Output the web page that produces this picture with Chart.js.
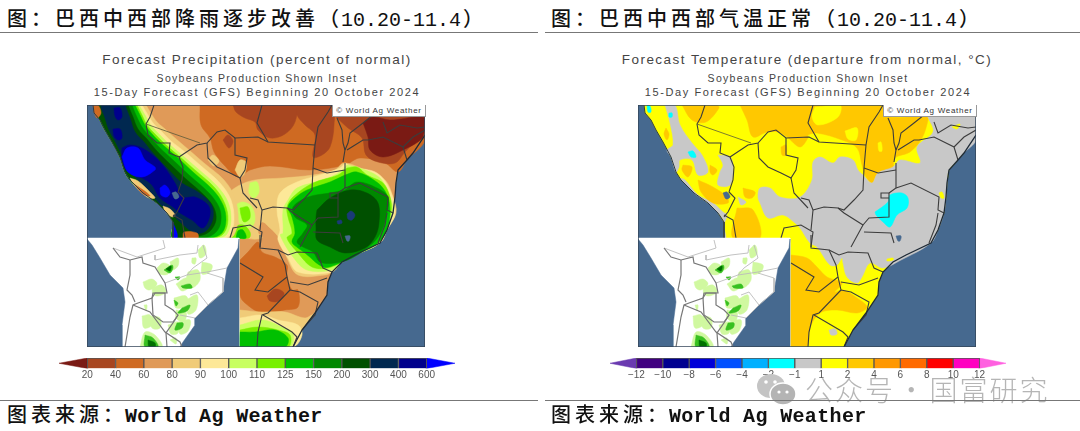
<!DOCTYPE html>
<html>
<head>
<meta charset="utf-8">
<script src="https://cdn.jsdelivr.net/npm/chart.js@4"></script>
<style>
body { margin:0; background:#fff; width:1080px; height:431px; overflow:hidden; position:relative; }
div, canvas, svg { position:absolute; }
.cap { font-family:"Noto Sans CJK SC"; font-size:20px; letter-spacing:4px; color:#111; white-space:nowrap; line-height:24px; font-weight:500; }
.cap b { font-family:"Liberation Mono"; letter-spacing:0; font-weight:400; margin:0 2px 0 -2px; }
.cap b.fat { font-weight:700; letter-spacing:.35px; margin:0 0 0 -2px; }
.rule { height:1px; background:#777; }
.head { font-family:"Liberation Sans"; color:#444; white-space:nowrap; text-align:center; width:400px; }
.copy { font-family:"Liberation Sans"; font-size:8px; letter-spacing:.7px; color:#333; background:#fff; border:1px solid #999; border-top:0; box-sizing:border-box; width:94px; height:12px; line-height:11px; text-align:center; white-space:nowrap; }
.map { filter:blur(.5px); }
</style>
</head>
<body>
<canvas id="precipMap" class="map" width="338" height="242" style="left:87px;top:105px"></canvas>
<canvas id="tempMap" class="map" width="338" height="242" style="left:638px;top:105px"></canvas>
<canvas id="precipBar" width="398" height="21" style="left:58px;top:358px"></canvas>
<canvas id="tempBar" width="398" height="21" style="left:609px;top:358px"></canvas>
<script>
// colour classes
var precipTicks = ['20','40','60','80','90','100','110','125','150','200','300','400','600'];
var precipColors = ['#7a1a14','#a84620','#cf6a22','#e09a58','#f0cb78','#fde898','#c8ff60','#78f000','#00c000','#008800','#005000','#002850','#00008c','#0000ff'];
var tempTicks = ['\u221212','\u221210','\u22128','\u22126','\u22124','\u22122','\u22121','1','2','4','6','8','10','12'];
var tempColors = ['#6a3ab0','#400080','#000090','#0000d8','#0050ff','#00b0ff','#00ffff','#c8c8c8','#ffff00','#ffc800','#ff9800','#ff6a00','#ff0000','#ff00c0','#ff60e0'];
var seaColor = '#46698f';

// coast, map units
var coastWest = [[93,105],[94,113],[100,120],[105,130],[112,142],[120,157],[125,172],[130,180],[143,193],[157,203],[167,213],[173,222],[173,238]];
var coastEast = [[425,135],[413,153],[407,160],[398,170],[396,183],[395,197],[393,213],[387,230],[380,243],[355,255],[342,262],[332,272],[328,282],[327,295],[315,313],[302,330],[293,347]];
var land = [[93,105],[94,113],[100,120],[105,130],[112,142],[120,157],[125,172],[130,180],[143,193],[157,203],[167,213],[173,222],[173,347],[293,347],[302,330],[315,313],[327,295],[328,282],[332,272],[342,262],[355,255],[380,243],[387,230],[393,213],[395,197],[396,183],[398,170],[407,160],[413,153],[425,135],[425,105]];

// precipitation contours
var pNorthOrange = [[200,105],[201,125],[210,138],[214,152],[224,165],[238,177],[250,170],[270,166],[310,170],[345,165],[360,158],[385,163],[398,172],[407,160],[425,140],[425,105]];
var pBrickA = [[233,105],[295,105],[295,122],[285,134],[270,138],[258,130],[255,122],[245,118],[236,112]];
var pBrickB = [[297,105],[332,105],[334,125],[330,147],[322,155],[313,157],[315,135],[305,125],[297,115]];
var pBrickC = [[335,116],[425,116],[425,130],[405,152],[395,163],[378,162],[366,155],[362,138],[348,128]];
var pDarkRed = [[363,123],[373,117],[390,120],[425,118],[423,137],[403,150],[383,157],[370,150],[368,137]];
var pBrickD = [[223,140],[228,135],[233,141],[229,148]];
var pBrickE = [[267,296],[275,289],[284,293],[279,301],[270,301]];
var pTanA = [[208,160],[213,155],[219,161],[214,166]];
var pTanB = [[235,170],[240,160],[246,162],[245,173],[240,177]];
var pBand80 = [[222,198],[238,186],[255,180],[283,178],[313,175],[335,170],[344,163],[365,170],[385,180],[393,197],[396,213],[387,230],[380,243],[355,255],[342,262],[332,272],[325,275],[298,275],[287,258],[279,238],[270,228],[262,222],[258,232],[262,238],[247,238],[235,228],[230,210]];
var pBand90 = [[345,163],[353,167],[377,173],[390,190],[395,213],[387,230],[380,243],[355,255],[342,262],[332,272],[298,272],[288,258],[278,240],[280,230],[277,210],[280,193],[297,182],[320,175],[340,168]];
var pBand100 = [[347,165],[360,168],[380,178],[390,197],[393,212],[386,230],[378,244],[355,255],[342,262],[332,270],[307,270],[293,257],[280,235],[283,233],[283,210],[288,200],[297,188],[323,180],[340,172]];
var pBand110 = [[347,168],[357,167],[367,175],[383,183],[390,197],[391,212],[384,230],[375,245],[355,255],[342,262],[328,268],[312,267],[298,253],[287,238],[292,233],[288,217],[287,207],[293,197],[313,183],[338,175]];
var pBand125 = [[345,175],[357,172],[378,183],[387,195],[390,212],[387,230],[378,243],[365,250],[350,258],[335,265],[323,267],[305,253],[298,248],[292,242],[295,233],[292,217],[288,207],[295,198],[307,190],[330,182]];
var pBand150 = [[345,190],[357,182],[377,188],[388,197],[387,213],[382,230],[373,243],[352,258],[335,263],[320,262],[313,252],[303,247],[297,242],[303,233],[307,225],[295,217],[293,207],[308,197],[330,193]];
var pBand200 = [[317,210],[330,198],[350,190],[367,193],[378,203],[379,223],[375,237],[365,248],[345,253],[330,247],[317,240],[316,228],[316,217]];
var pSouthOrange = [[240,260],[248,252],[258,242],[262,252],[275,257],[287,265],[287,275],[292,290],[298,290],[298,307],[285,310],[262,313],[245,303],[240,295]];
var pSouth80 = [[240,310],[262,312],[285,312],[305,318],[315,313],[302,330],[293,347],[240,347]];
var pSouth90 = [[240,318],[262,315],[278,320],[298,325],[302,335],[293,347],[240,347]];
var pSouth100 = [[240,325],[262,320],[282,327],[293,333],[290,347],[240,347]];
var pSouth110 = [[240,330],[258,327],[278,330],[290,335],[288,347],[240,347]];
var pSouth125 = [[240,332],[255,332],[275,330],[288,338],[285,347],[240,347]];
var pPatchA = [[235,205],[243,202],[252,207],[255,220],[250,228],[240,224],[238,213]];
var pPatchB = [[240,208],[248,207],[250,218],[244,222],[241,215]];
var pPatchC = [[250,183],[257,182],[259,192],[254,198],[249,193]];
var pPatchD = [[232,238],[233,228],[243,225],[250,232],[249,238]];
var pPatchE = [[236,238],[238,231],[243,230],[246,238]];

// andes wet band, outer to inner
var wetCoast = [[173,238],[173,222],[167,213],[157,203],[143,193],[130,180],[125,172],[120,157],[112,142],[105,130],[100,120],[96,105]];
var wet80 = [[146,105],[152,115],[157,122],[165,129],[175,138],[189,150],[204,163],[224,180],[235,198],[238,220],[234,235],[229,238]].concat(wetCoast);
var wet90 = [[142,105],[148,115],[153,123],[161,131],[171,141],[185,152],[200,165],[220,183],[231,200],[234,220],[230,235],[225,238]].concat(wetCoast);
var wet100 = [[139,105],[145,115],[150,124],[158,133],[168,143],[182,155],[197,168],[217,186],[228,202],[231,220],[227,234],[219,238]].concat(wetCoast);
var wet110 = [[137,105],[142,115],[147,125],[155,134],[165,144],[179,156],[195,170],[215,188],[225,204],[228,220],[224,233],[214,238]].concat(wetCoast);
var wet125 = [[135,105],[140,115],[145,125],[153,135],[163,145],[177,157],[193,172],[213,190],[223,205],[226,220],[222,233],[210,238]].concat(wetCoast);
var wet150 = [[132,105],[136,115],[142,127],[150,137],[159,147],[173,160],[189,175],[209,193],[219,207],[221,220],[217,231],[205,238]].concat(wetCoast);
var wet200 = [[128,105],[133,117],[138,129],[147,139],[156,150],[170,164],[186,179],[205,196],[214,208],[216,220],[211,230],[203,235],[185,238]].concat(wetCoast);
var wet300 = [[125,105],[130,118],[135,132],[144,142],[152,152],[166,167],[182,183],[198,192],[211,204],[213,218],[206,231],[195,233],[180,222],[172,214],[160,204],[150,192],[136,178],[126,163],[116,143],[109,130],[105,118],[102,105]];
var wetNavy = [[122,148],[130,145],[142,148],[155,157],[165,168],[175,183],[183,197],[195,197],[208,205],[210,215],[203,228],[192,220],[180,213],[173,207],[160,198],[152,185],[142,178],[128,172],[122,160]];
var wetNavyA = [[114,108],[120,108],[122,117],[118,120],[115,116]];
var wetNavyB = [[113,129],[120,129],[122,138],[118,140],[114,136]];
var wetCoreA = [[122,157],[127,148],[138,148],[145,160],[155,167],[155,170],[142,177],[128,172]];
var wetCoreB = [[160,188],[165,185],[170,192],[167,197],[161,195]];
var wetCoreC = [[173,223],[177,233],[177,238],[173,238]];
var stripA = [[130,178],[138,181],[149,191],[155,198],[147,197],[134,185]];
var stripB = [[134,184],[146,192],[150,196],[143,194]];
var stripC = [[163,206],[170,209],[175,215],[172,217],[165,211]];
var stripD = [[93,105],[98,105],[101,113],[97,118],[94,112]];
var stripE = [[183,238],[184,232],[197,233],[198,238]];
var lakeA = [[172,193],[176,192],[179,197],[175,199]];
var lakeB = [[347,214],[351,211],[355,215],[352,220],[348,219]];
var lakeC = [[337,221],[341,220],[342,223],[338,224]];
var lakeD = [[345,236],[350,236],[349,241],[347,241]];

// temperature contours
var tOrangeA = [[131,105],[166,105],[168,108],[155,122],[141,120]];
var tOrangeB = [[189,105],[196,120],[202,137],[216,132],[227,132],[236,137],[249,147],[257,138],[257,135],[266,133],[291,140],[306,148],[311,165],[314,175],[321,183],[326,175],[341,170],[344,158],[359,152],[371,138],[377,120],[376,117],[335,116],[332,105]];
var tYellowA = [[264,107],[289,105],[287,117],[267,125],[261,117]];
var tYellowB = [[294,131],[306,128],[305,140],[297,139]];
var tYellowC = [[327,143],[330,142],[331,151],[328,151]];
var tGreyMain = [[377,117],[382,132],[366,147],[369,163],[349,160],[342,167],[327,173],[321,183],[312,175],[307,170],[302,160],[289,157],[282,163],[269,157],[262,162],[261,180],[249,197],[229,197],[219,188],[209,188],[207,197],[209,203],[217,218],[232,215],[244,223],[249,228],[259,243],[266,247],[279,265],[286,265],[291,258],[292,263],[296,277],[306,283],[311,277],[319,263],[332,268],[350,260],[380,243],[387,230],[393,213],[395,197],[396,183],[398,170],[407,160],[413,153],[425,140],[425,116]];
var tGreyAndes = [[114,105],[124,105],[129,125],[141,143],[151,155],[157,172],[147,175],[141,160],[129,160],[128,167],[125,172],[120,157],[116,150],[122,145],[119,123]];
var tGreyCoast = [[129,178],[134,180],[147,195],[161,202],[172,212],[176,215],[173,225],[175,238],[173,238],[173,222],[167,213],[157,203],[143,193]];
var tGreyBolivia = [[167,155],[179,157],[182,168],[179,185],[167,185],[169,172],[172,165]];
var tGreySmall = [[187,197],[195,202],[190,205]];
var tGreySouth = [[278,330],[284,329],[286,334],[280,335]];
var tCyan = [[324,212],[337,202],[339,195],[351,193],[357,198],[356,208],[346,215],[339,227],[332,222],[325,215]];
var tCyanA = [[96,105],[99,106],[100,112],[97,112]];
var tCyanB = [[118,113],[121,113],[121,117],[118,117]];
var tCyanC = [[137,152],[142,151],[145,157],[140,157]];
var tOrangeC = [[132,165],[141,167],[137,177],[131,170]];
var tOrangeD = [[159,165],[166,170],[162,175],[159,172]];
var tOrangeE = [[147,180],[162,187],[176,197],[177,203],[162,203],[150,192]];
var tOrangeF = [[192,188],[204,192],[201,198],[194,197]];
var tOrangeG = [[186,208],[202,210],[209,238],[182,238]];
var tOrangeH = [[115,128],[118,134],[116,140],[113,134]];
var tOrangeI = [[230,147],[235,145],[235,155],[231,155]];
var tOrangeJ = [[240,255],[256,258],[266,267],[276,277],[291,283],[284,292],[292,290],[306,298],[316,307],[306,313],[286,310],[269,313],[259,328],[256,347],[240,347]];
var tYellowD = [[401,127],[409,124],[406,129]];
var tYellowE = [[388,193],[391,192],[393,198],[390,198]];
var tYellowF = [[336,259],[342,258],[342,260],[336,261]];

// inset, soybean areas
var insetBox = [[87,238],[239,238],[239,347],[87,347]];
var insetSeaW = [[87,239],[92,245],[100,258],[110,275],[123,288],[125,302],[122,325],[122,347],[87,347]];
var insetSeaE = [[239,239],[238,248],[227,268],[223,292],[208,305],[195,318],[195,325],[183,342],[180,347],[239,347]];
var soyLight = [
  [[157,268],[163,263],[170,266],[168,274],[160,274]],
  [[170,262],[178,258],[178,266],[172,270]],
  [[143,282],[152,279],[157,284],[150,290],[145,288]],
  [[152,288],[162,285],[166,292],[158,296],[153,294]],
  [[176,284],[186,278],[190,286],[182,291]],
  [[188,272],[198,270],[200,280],[192,288],[186,282]],
  [[202,262],[212,265],[210,272],[202,274]],
  [[198,250],[204,245],[206,254],[200,258]],
  [[192,258],[196,258],[195,264],[192,263]],
  [[174,298],[186,296],[188,305],[176,308]],
  [[186,300],[197,295],[196,310],[188,314]],
  [[176,310],[186,312],[184,322],[176,318]],
  [[142,316],[150,315],[152,325],[144,328]],
  [[150,316],[160,318],[160,328],[152,328]],
  [[168,325],[178,322],[178,333],[171,334]],
  [[178,322],[190,320],[188,331],[180,334]],
  [[140,347],[145,332],[155,335],[162,347]],
  [[170,340],[176,338],[176,344]],
  [[144,305],[147,305],[146,311]]
];
var soyMid = [
  [[164,270],[172,265],[173,268],[170,273]],
  [[181,286],[190,284],[192,288],[183,288]],
  [[175,277],[180,277],[178,280]],
  [[174,300],[178,303],[176,306]],
  [[182,308],[190,305],[187,311],[178,313]],
  [[177,323],[183,323],[182,328],[175,330]],
  [[145,335],[153,338],[158,347],[145,347]]
];
var soyDark = [[[148,340],[155,343],[155,347],[149,347]], [[166,269],[171,266],[170,271]]];
var insetDark = [
  [[113,248],[120,257],[130,260],[142,257],[143,263],[155,267],[165,283],[167,293],[153,293],[152,298],[138,303],[133,305],[130,317],[125,347]],
  [[130,260],[130,275],[127,290],[132,295],[135,302]],
  [[152,298],[155,293],[165,293],[165,305],[173,310],[178,315],[173,322],[163,322],[153,315],[152,298]],
  [[133,305],[150,312],[165,332],[180,342],[182,347]],
  [[178,315],[175,320],[166,333],[167,347]]
];
var insetLight = [
  [[113,248],[137,257],[165,248],[163,240]],
  [[155,255],[155,260],[180,255],[197,253],[198,245]],
  [[165,283],[187,275],[207,272],[227,268]],
  [[187,275],[193,268],[207,258],[203,245]],
  [[207,273],[223,278],[223,292],[208,305],[195,318]],
  [[190,295],[198,292],[208,305]],
  [[180,315],[195,318]]
];

// borders
var borders = [
  [[154,105],[150,117],[146,124],[148,135],[157,143],[170,143],[169,153],[179,157],[183,167],[182,180],[178,192],[184,198],[177,212],[173,217]],
  [[173,215],[182,220],[185,238]],
  [[179,157],[197,145],[207,143],[217,132],[225,130],[235,138],[258,137],[268,142],[315,145]],
  [[268,142],[257,123],[262,105]],
  [[315,145],[318,127],[328,112],[332,105]],
  [[315,145],[313,168],[312,190],[303,200],[293,210],[287,208]],
  [[207,143],[208,158],[217,167],[230,173],[240,178],[245,170],[247,158],[235,155],[235,138]],
  [[240,178],[243,193],[257,208]],
  [[230,238],[233,228],[250,225],[262,232],[260,247]],
  [[250,198],[258,200],[262,210],[260,230]],
  [[262,210],[273,207],[287,208],[293,213],[312,225],[300,247]],
  [[312,225],[318,218],[338,217],[338,193],[330,193],[330,198],[338,198]],
  [[313,168],[327,173],[345,170]],
  [[345,163],[345,188],[338,193]],
  [[345,188],[360,183],[388,197],[387,210],[393,213]],
  [[313,232],[340,233],[343,243]],
  [[387,213],[385,225],[378,243]],
  [[347,150],[363,140],[368,140],[383,137],[403,147],[407,160]],
  [[343,162],[345,150],[348,143],[350,133],[363,123],[373,115]],
  [[337,118],[342,130],[343,143],[345,150]],
  [[383,122],[387,133],[400,125],[417,128],[425,127]],
  [[403,147],[413,137],[425,130]],
  [[240,263],[263,277],[255,290],[268,292],[287,277],[285,265],[278,250],[260,248],[260,235]],
  [[287,277],[290,290],[268,313],[262,315],[258,332],[257,347]],
  [[290,282],[308,285],[327,278]],
  [[278,250],[288,255],[297,252],[317,253],[323,268],[332,272]],
  [[290,290],[300,292],[318,302],[315,315],[302,330]],
  [[263,315],[275,322],[292,332],[297,337],[293,347]]
];
var frame = [[87,105],[425,105],[425,347],[87,347],[87,105]];
var thinBorder = [[146,124],[163,130],[200,143]];

function xy(list) {
    return list.map(function(p) { return {x: p[0], y: p[1]}; });
}
function shape(list, color, smooth) {
    return {
        data: xy(list.concat([list[0]])),
        showLine: true,
        fill: 'shape',
        backgroundColor: color,
        borderColor: color,
        borderWidth: 0.5,
        pointRadius: 0,
        tension: smooth === false ? 0 : 0.35
    };
}
function stroke(list, color, width) {
    return {
        data: xy(list),
        showLine: true,
        fill: false,
        borderColor: color,
        borderWidth: width,
        pointRadius: 0,
        tension: 0
    };
}
function drawMap(id, layers) {
    var sets = [shape(land, layers.base, false)];
    layers.list.forEach(function(l) { sets.push(shape(l[0], l[1])); });
    // country lines
    borders.forEach(function(b) { sets.push(stroke(b, '#3c3c3c', 1.1)); });
    sets.push(stroke(thinBorder, '#5a5a3a', 0.8));
    sets.push(stroke(coastWest, '#2c3a48', 1));
    sets.push(stroke(coastEast, '#1e2a36', 1.3));
    // inset
    sets.push(shape(insetBox, '#ffffff', false));
    sets.push(shape(insetSeaW, seaColor, false));
    sets.push(shape(insetSeaE, seaColor, false));
    soyLight.forEach(function(s) { sets.push(shape(s, '#d0f8a0')); });
    soyMid.forEach(function(s) { sets.push(shape(s, '#38c020')); });
    soyDark.forEach(function(s) { sets.push(shape(s, '#007000')); });
    insetLight.forEach(function(s) { sets.push(stroke(s, '#bbbbbb', 0.9)); });
    insetDark.forEach(function(s) { sets.push(stroke(s, '#777777', 1.2)); });
    sets.push(stroke(frame, '#34465a', 1.5));
    // first dataset is drawn on top
    sets.reverse();
    new Chart(document.getElementById(id), {
        type: 'scatter',
        data: {datasets: sets},
        options: {
            responsive: false,
            animation: false,
            events: [],
            layout: {padding: 0},
            plugins: {legend: {display: false}, tooltip: {enabled: false}},
            scales: {
                x: {type: 'linear', display: false, min: 87, max: 425},
                y: {type: 'linear', display: false, min: 105, max: 347, reverse: true}
            }
        }
    });
}
function drawBar(id, ticks, colors) {
    var n = ticks.length - 1;
    var cells = [];
    for (var i = 0; i < n; i++) cells.push({x: i + 0.5, y: 1});
    var sets = [
        {type: 'bar', data: cells, backgroundColor: colors.slice(1, n + 1), borderColor: '#555', borderWidth: 1, barPercentage: 1, categoryPercentage: 1},
        shape([[0, 0], [-1, 0.5], [0, 1]], colors[0], false),
        shape([[n, 0], [n + 1, 0.5], [n, 1]], colors[n + 1], false)
    ];
    new Chart(document.getElementById(id), {
        type: 'scatter',
        data: {datasets: sets},
        options: {
            responsive: false,
            animation: false,
            events: [],
            layout: {padding: 0},
            plugins: {legend: {display: false}, tooltip: {enabled: false}},
            scales: {
                x: {
                    type: 'linear', offset: false, min: -1, max: n + 1,
                    grid: {display: false, drawTicks: false}, border: {display: false},
                    ticks: {
                        stepSize: 1, autoSkip: false, maxRotation: 0, padding: 1,
                        color: '#555', font: {family: 'Liberation Sans', size: 10},
                        callback: function(v) { return ticks[v] === undefined ? '' : ticks[v]; }
                    }
                },
                y: {type: 'linear', display: false, min: 0, max: 1}
            }
        }
    });
}

var precipLayers = [
    [pNorthOrange, precipColors[2]], [pBrickA, precipColors[1]], [pBrickB, precipColors[1]], [pBrickC, precipColors[1]], [pDarkRed, precipColors[0]],
    [pBrickD, precipColors[1]], [pTanA, precipColors[4]], [pTanB, precipColors[4]],
    [pBand80, precipColors[4]], [pBand90, precipColors[5]], [pBand100, precipColors[6]], [pBand110, precipColors[7]], [pBand125, precipColors[8]], [pBand150, precipColors[9]], [pBand200, precipColors[10]],
    [pSouthOrange, precipColors[2]], [pBrickE, precipColors[1]],
    [pSouth80, precipColors[4]], [pSouth90, precipColors[5]], [pSouth100, precipColors[6]], [pSouth110, precipColors[7]], [pSouth125, precipColors[8]],
    [pPatchA, precipColors[6]], [pPatchB, precipColors[7]], [pPatchC, precipColors[6]], [pPatchD, precipColors[7]], [pPatchE, precipColors[8]],
    [wet80, precipColors[4]], [wet90, precipColors[5]], [wet100, precipColors[6]], [wet110, precipColors[7]], [wet125, precipColors[8]], [wet150, precipColors[9]], [wet200, precipColors[10]], [wet300, precipColors[11]],
    [wetNavy, precipColors[12]], [wetNavyA, precipColors[12]], [wetNavyB, precipColors[12]],
    [wetCoreA, precipColors[13]], [wetCoreB, precipColors[13]], [wetCoreC, precipColors[13]],
    [stripA, precipColors[4]], [stripB, precipColors[2]], [stripC, precipColors[4]], [stripD, precipColors[2]], [stripE, precipColors[2]],
    [lakeA, seaColor], [lakeB, '#1a3a78'], [lakeC, '#1a3a78'], [lakeD, seaColor]
];
var tempLayers = [
    [tOrangeB, tempColors[9]], [tOrangeA, tempColors[9]], [tYellowA, tempColors[8]], [tYellowB, tempColors[8]], [tYellowC, tempColors[8]],
    [tGreyMain, tempColors[7]], [tGreyAndes, tempColors[7]], [tGreyCoast, tempColors[7]], [tGreyBolivia, tempColors[7]], [tGreySmall, tempColors[7]],
    [tOrangeC, tempColors[9]], [tOrangeD, tempColors[9]], [tOrangeE, tempColors[9]], [tOrangeF, tempColors[9]], [tOrangeG, tempColors[9]], [tOrangeH, tempColors[9]], [tOrangeI, tempColors[9]], [tOrangeJ, tempColors[9]],
    [tGreySouth, tempColors[7]], [tCyan, tempColors[6]], [tCyanA, tempColors[6]], [tCyanB, tempColors[6]], [tCyanC, tempColors[6]],
    [tYellowD, tempColors[8]], [tYellowE, tempColors[8]], [tYellowF, tempColors[8]],
    [lakeA, seaColor], [lakeD, seaColor]
];

drawMap('precipMap', {base: precipColors[3], list: precipLayers});
drawMap('tempMap', {base: tempColors[8], list: tempLayers});
drawBar('precipBar', precipTicks, precipColors);
drawBar('tempBar', tempTicks, tempColors);
</script>
<script>
// sea sits behind the transparent map canvases
document.body.insertAdjacentHTML('afterbegin',
    '<div style="left:87px;top:105px;width:338px;height:242px;background:' + seaColor + '"></div>' +
    '<div style="left:638px;top:105px;width:338px;height:242px;background:' + seaColor + '"></div>');
</script>

<div class="cap" style="left:7px;top:6px">图：巴西中西部降雨逐步改善（<b>10.20-11.4</b>）</div>
<div class="cap" style="left:551px;top:6px">图：巴西中西部气温正常（<b>10.20-11.4</b>）</div>
<div class="rule" style="left:0;top:32px;width:538px"></div>
<div class="rule" style="left:545px;top:32px;width:535px"></div>

<div class="head" style="left:57px;top:52px;font-size:13.5px;letter-spacing:1.45px">Forecast Precipitation (percent of normal)</div>
<div class="head" style="left:57px;top:72px;font-size:10.5px;letter-spacing:1.3px">Soybeans Production Shown Inset</div>
<div class="head" style="left:57px;top:86px;font-size:11px;letter-spacing:1.6px">15-Day Forecast (GFS) Beginning 20 October 2024</div>
<div class="head" style="left:607px;top:52px;font-size:13.5px;letter-spacing:1.45px">Forecast Temperature (departure from normal, °C)</div>
<div class="head" style="left:608px;top:72px;font-size:10.5px;letter-spacing:1.3px">Soybeans Production Shown Inset</div>
<div class="head" style="left:608px;top:86px;font-size:11px;letter-spacing:1.6px">15-Day Forecast (GFS) Beginning 20 October 2024</div>

<div class="copy" style="left:332px;top:105px">© World Ag Weather</div>
<div class="copy" style="left:883px;top:105px">© World Ag Weather</div>

<svg style="left:756px;top:373px" width="42" height="34" viewBox="0 0 42 34"><ellipse cx="15" cy="13" rx="14" ry="12" fill="#c4c4c4"/><ellipse cx="27" cy="21" rx="13" ry="11" fill="#b4b4b4" stroke="#fff" stroke-width="1.5"/><circle cx="10" cy="9" r="1.8" fill="#fff"/><circle cx="19" cy="9" r="1.8" fill="#fff"/><circle cx="23" cy="19" r="1.6" fill="#fff"/><circle cx="31" cy="19" r="1.6" fill="#fff"/></svg>
<div style="left:805px;top:369px;font-family:'Noto Sans CJK SC';font-weight:300;font-size:28px;letter-spacing:2px;word-spacing:-6px;color:rgba(135,135,135,.62);white-space:nowrap">公众号 · 国富研究</div>

<div class="rule" style="left:0;top:400px;width:538px"></div>
<div class="rule" style="left:545px;top:400px;width:535px"></div>
<div class="cap" style="left:7px;top:402px">图表来源：<b class="fat">World Ag Weather</b></div>
<div class="cap" style="left:551px;top:402px">图表来源：<b class="fat">World Ag Weather</b></div>
</body>
</html>
